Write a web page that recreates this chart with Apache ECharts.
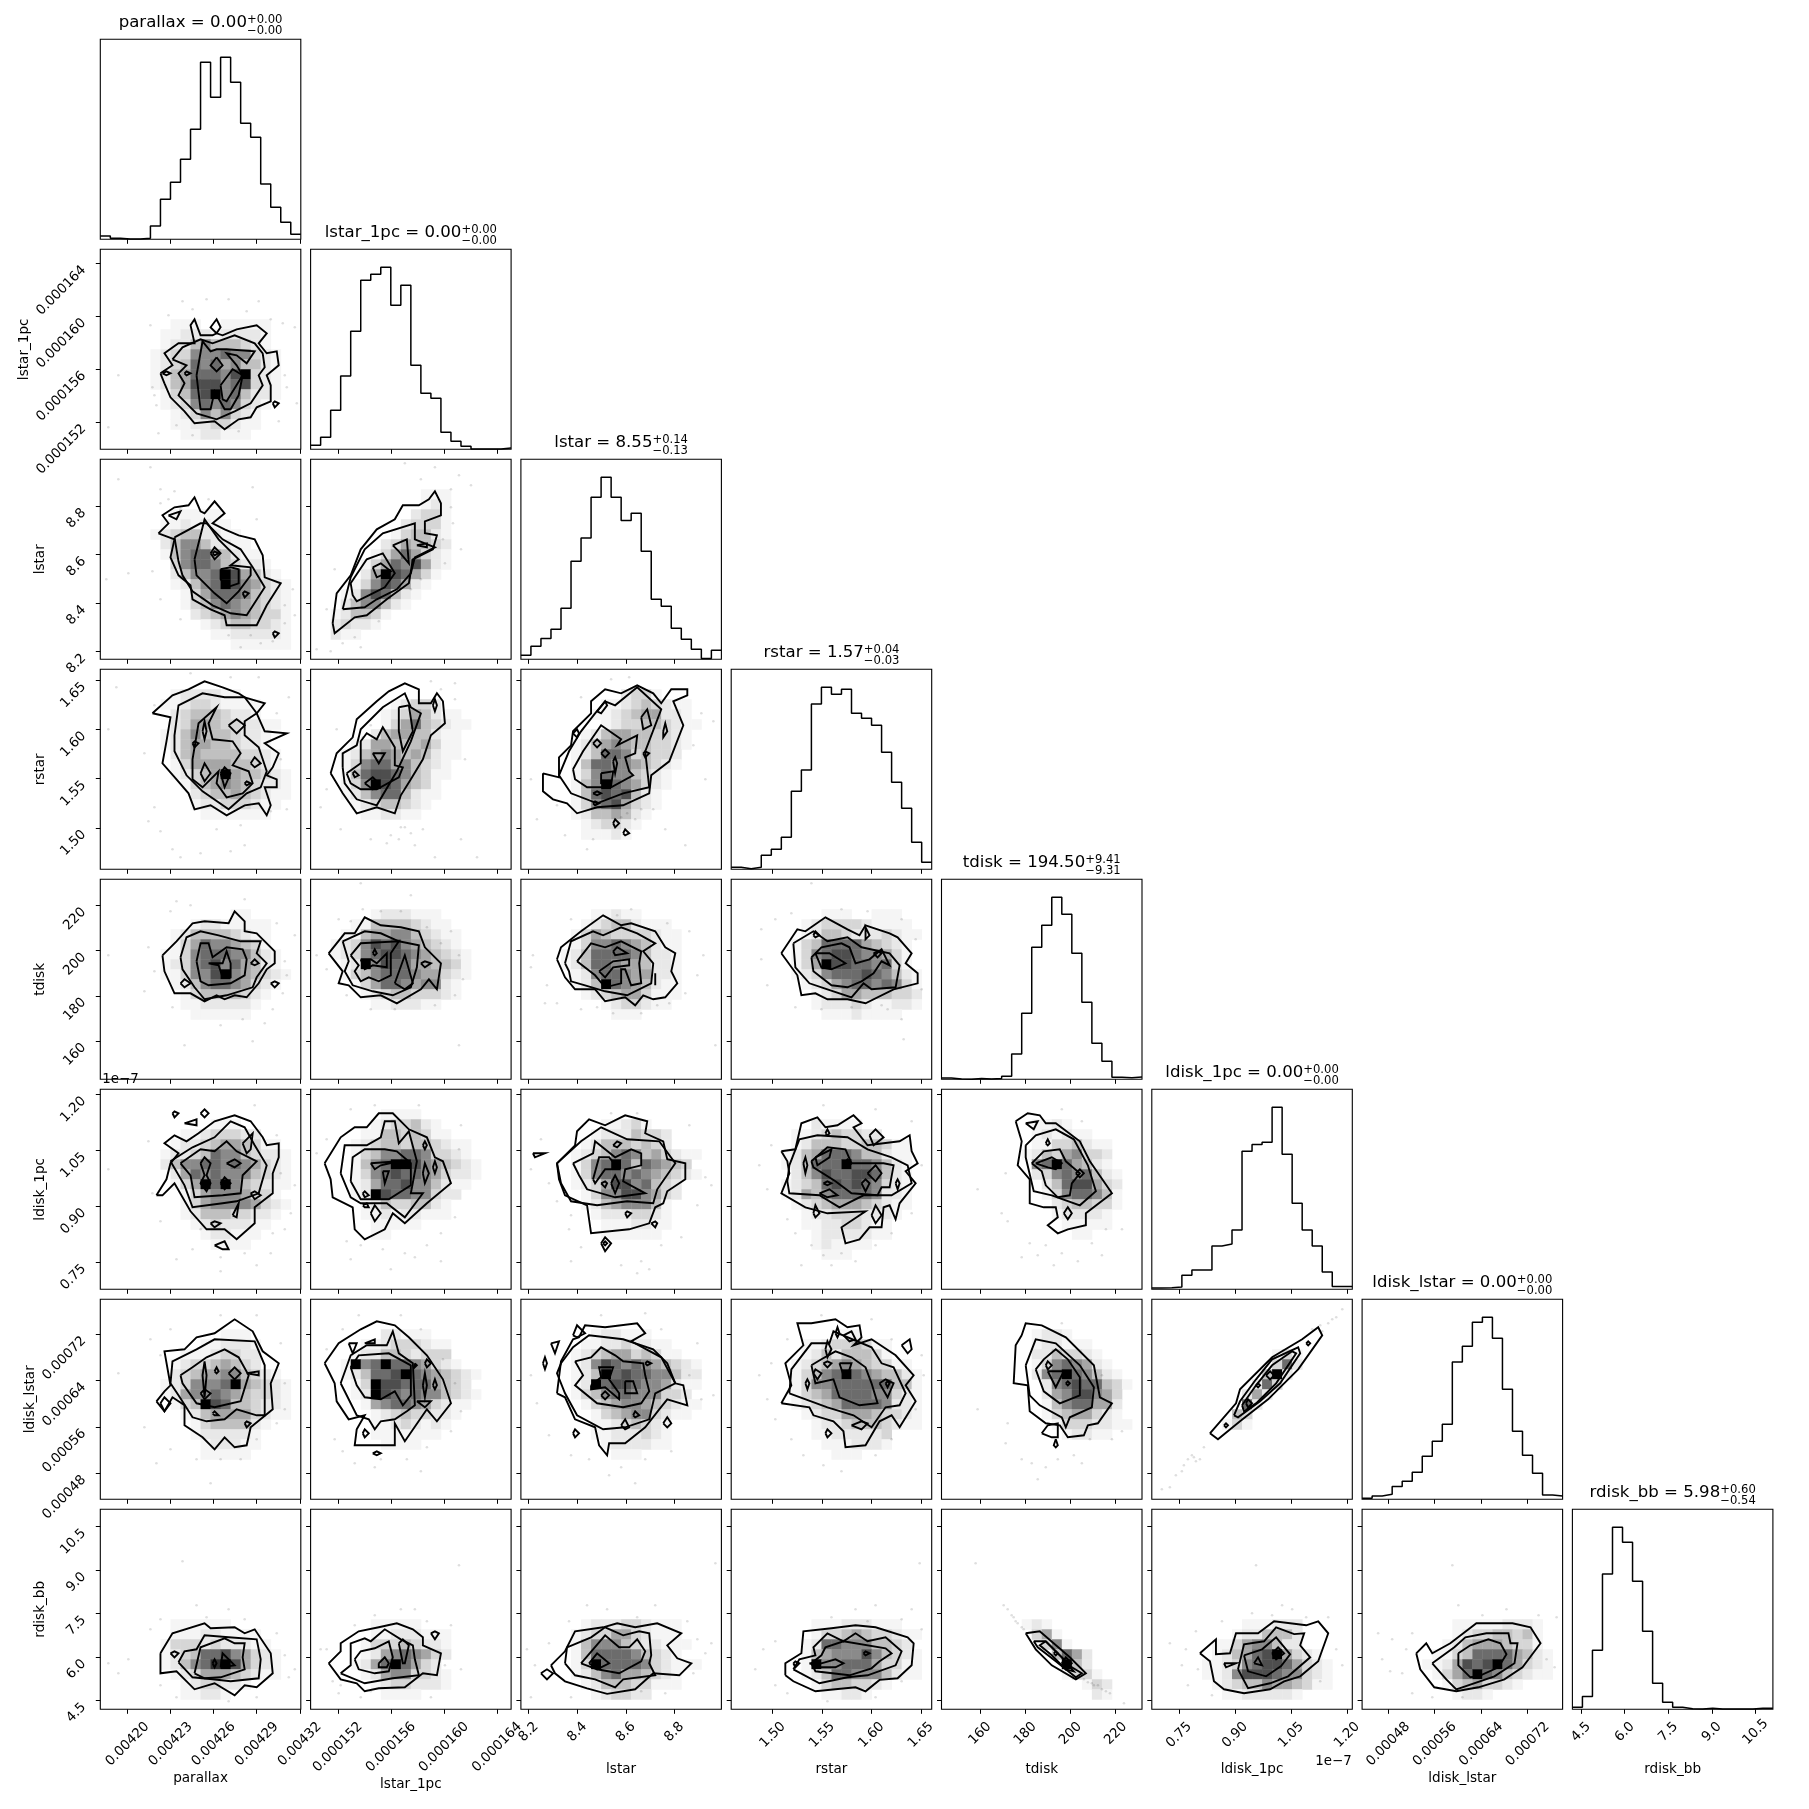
<!DOCTYPE html>
<html><head><meta charset="utf-8">
<script src="https://cdn.jsdelivr.net/npm/echarts@6/dist/echarts.min.js"></script>
<style>html,body{margin:0;padding:0;background:#fff}#c{width:1809px;height:1809px}</style></head>
<body><div id="c"></div>
<script>
const names=["parallax","lstar_1pc","lstar","rstar","tdisk","ldisk_1pc","ldisk_lstar","rdisk_bb"];
const mins=[0.004181,0.00014995,8.168,1.458,143,0.677e-7,0.000435,4.2];
const maxs=[0.0043207,0.00016506,8.994,1.661,231.6,1.214e-7,0.00078,11.1];
const ticks=[[0.0042,0.00423,0.00426,0.00429,0.00432],[0.000152,0.000156,0.00016,0.000164],[8.2,8.4,8.6,8.8],[1.5,1.55,1.6,1.65],[160,180,200,220],[0.75e-7,0.9e-7,1.05e-7,1.2e-7],[0.00048,0.00056,0.00064,0.00072],[4.5,6,7.5,9,10.5]];
const tickLabels=[["0.00420","0.00423","0.00426","0.00429","0.00432"],["0.000152","0.000156","0.000160","0.000164"],["8.2","8.4","8.6","8.8"],["1.50","1.55","1.60","1.65"],["160","180","200","220"],["0.75","0.90","1.05","1.20"],["0.00048","0.00056","0.00064","0.00072"],["4.5","6.0","7.5","9.0","10.5"]];
const titleMain=["parallax = 0.00","lstar_1pc = 0.00","lstar = 8.55","rstar = 1.57","tdisk = 194.50","ldisk_1pc = 0.00","ldisk_lstar = 0.00","rdisk_bb = 5.98"];
const titleUp=["+0.00","+0.00","+0.14","+0.04","+9.41","+0.00","+0.00","+0.60"];
const titleDown=["−0.00","−0.00","−0.13","−0.03","−9.31","−0.00","−0.00","−0.54"];

// histogram heights, 20 bins, percent of panel height
const hist0=[1.7,.5,.1,.1,.5,6.7,20,28.5,40,55,88.5,71,91,78.5,58,51,27.7,16,8.5,2.5];
const hist1=[2,6,19.5,36.7,59,84.5,87.5,91,72,82,42,28,25.5,8.5,4,1.5,.2,.1,.1,.6];
const hist2=[2,6.5,10.4,15,25.5,49,60.6,81,91,81,69.4,73,54,30,26.5,15.5,10,5,.4,4.5];
const hist3=[1,.3,1,7,10,16,39,49.7,82.7,91,87.5,90,78,75.5,72,58.5,43.5,30.5,13.5,3.5];
const hist4=[.6,.2,0,.4,.1,.4,1.5,12.6,33,66,77,91,82.5,63,38.5,18,9,1,.8,1.2];
const hist5=[.6,.8,1.2,7,9.6,9.6,21.6,22.6,29.6,69,72.4,73.5,91,67.5,43,29.6,21.6,8.6,1.4,1.4];
const hist6=[.5,1.7,2.5,6.4,9,13.5,21.5,29,37.5,68.7,76.5,88.5,91,80.5,55,34,22,13,2.2,1.7];
const hist7=[1,6.4,29.5,67.6,91,83.5,64,39,13,3.5,1,.3,.1,.5,.1,.1,.1,.1,.5,.5];

// 2D panels: cNM contour loops, hNM density rows, sNM faint samples; N row, M column; percent of axis range
const c10=[[30,38,36,42,32,48,39,53,47,53,45,62,47,65,50,57,56,57,58,58,55,61,58,65,60,61,58,58,61,57,68,60,78,62,83,58,79,53,83,48,88,49,89,42,83,37,85,32,85,24,78,21,75,16,69,15,62,10,57,14,47,13,42,19,35,26,32,33],[36,45,41,51,50,55,56,53,67,57,77,53,81,48,82,41,79,37,81,32,75,23,67,19,58,15,48,18,39,27,42,33,39,38,43,42],[48,37,51,54,55,49,58,50,63,50,77,49,73,43,68,47,63,48,68,42,71,37,69,27,65,20,62,20,57,29,55,20,50,20],[60,32,66,40,71,37,63,24,61,25],[58,46,61,42,58,39,55,42],[31,38,33,39,35,38,33,37],[42,38,43,39,45,38,43,37],[86,23,87,24,89,23,87,21]];
const h10=[7,5,"0011100111110","0112221222210","0122464443210","1233666766321","1234767564421","124577768a321","1245888678321","013478a674221","0123676763210","0012364632100","0011223321100","0001122111000"];
const s10=[9,37,25,62,4,11,41,74,53,75,64,75,79,74,91,63,97,61,92,37,98,23,27,27,26,31,29,8,46,7,69,9,89,14,93,31,38,12,34,67,46,70,73,69,85,65,28,22];
const c20=[[29,63,34,68,31,72,37,76,44,77,47,81,50,74,52,73,57,79,62,73,56,68,62,65,69,62,77,60,81,52,82,41,90,38,83,27,78,17,68,17,63,17,62,22,55,25,46,30,45,37,39,42,35,51,37,60],[34,72,40,74,38,70],[37,61,50,68,53,68,61,60,70,55,76,46,82,36,73,22,65,23,56,27,46,34,41,42,39,49],[47,50,52,70,59,60,69,50,65,47,75,46,75,42,69,34,63,28,57,33,48,42],[60,45,65,46,69,45,69,38,63,36,60,40],[55,53,57,56,60,53,57,50],[56,53,57,54,59,53,57,52],[71,33,72,34,74,33,72,31],[86,13,87,14,89,13,87,11]];
const h20=[5,5,"00111110000000","01121211000000","12344221100000","02466422110000","01467754211000","00367764322100","0024667a854210","0012467a865321","00013577764321","00013467654321","00002345654331","00000123443321","00000011222221","00000000111111"];
const s20=[25,96,9,90,3,40,30,85,34,80,40,75,30,78,37,84,54,80,78,70,96,35,97,22,92,27,86,9,75,12,80,8,70,6,64,12,92,18,40,20,30,30,26,44,14,43,76,86];
const c30=[[26,78,36,87,44,90,52,94,61,91,69,88,72,86,82,83,78,78,82,69,93,68,82,63,89,58,86,51,83,47,88,45,88,41,82,41,85,32,83,27,79,33,72,32,63,27,55,32,47,30,44,38,38,45,31,53,33,64,35,76],[37,67,39,82,51,88,62,86,72,86,78,78,72,74,72,67,79,61,83,49,80,41,73,38,64,30,51,39,43,47,37,59],[46,55,49,73,58,81,54,73,56,65,66,64,70,58,66,52,74,49,76,43,71,38,63,36,58,43,59,49,51,41,46,45],[64,72,68,75,72,72,68,68],[51,69,52,74,53,69,52,65],[46,63,47,64,49,63,47,61],[75,53,77,56,80,53,77,51],[50,48,52,53,55,48,52,44],[60,48,62,51,65,48,62,41],[72,43,73,44,75,43,73,42]];
const h30=[2,5,"00122221100000","01123321111000","00234443221000","00235543322110","01246444322100","01245544322100","00245444433210","00135555443210","0012345a544321","00013456543221","00002344543211","00001223332110","00000111111100"];
const s30=[8,91,4,70,27,31,24,24,36,10,30,19,40,6,50,8,58,20,65,9,72,12,70,22,88,78,94,86,93,30,85,29,22,58,27,82,45,98,65,96,79,96,90,55];
const c21=[[11,18,13,33,20,42,25,55,33,65,42,70,46,77,54,77,59,80,62,84,65,78,65,72,57,69,57,63,63,62,61,55,51,50,49,38,38,30,28,22,22,21,12,13],[16,25,20,41,27,55,36,63,52,68,52,60,62,56,52,51,50,43,43,35,33,30,27,26],[21,32,20,38,28,50,36,53,42,43,37,36,29,32,23,29],[31,46,35,48,40,44,33,41],[41,57,48,60,49,48,44,54],[53,57,58,58,58,56]];
const h21=[3,2,"000000000111","000000000121","000000002331","000000023331","000000134421","000002354432","000013575321","000135768521","00025a875310","001368752100","012687421000","024664210000","124431000000","232210000000","211000000000"];
const s21=[47,98,62,96,74,92,80,87,70,85,55,90,66,60,71,68,75,55,67,48,50,35,55,40,20,30,12,45,8,25,3,5,10,4,16,8,25,6,22,11,34,19,70,76];
const c31=[[10,48,13,58,21,66,23,75,33,84,39,89,47,93,54,90,54,83,60,83,63,88,66,84,67,73,60,67,56,55,50,45,45,37,42,28,33,31,23,28,16,38],[16,51,16,58,23,62,25,70,36,81,47,88,50,81,55,78,50,64,43,49,33,32,23,35,17,43],[18,48,25,53,25,64,28,68,33,65,36,71,42,61,42,52,46,51,44,46,33,40,25,40,20,43],[44,81,49,82,51,69,46,59,44,69],[31,58,37,58,34,53],[27,43,31,46,34,43,31,40],[21,48,22,49,24,47,22,46],[61,82,62,85,63,82,62,79]];
const h31=[3,2,"00000012332","0000012354211","00000135743211","0000245544211","0012554445311","01245654542110","01367756432100","0147887643110","0136a87543100","0124677421100","0012344321000","0001122110000"];
const s31=[30,15,38,13,40,17,45,21,50,18,52,12,62,6,75,15,83,6,72,93,60,94,65,90,30,72,26,66,13,70,8,40,5,31,15,20,56,20,44,15,47,21,72,85,77,55];
const c32=[[11,48,19,46,19,56,25,62,26,69,35,78,35,84,42,90,50,88,58,92,66,88,70,83,75,90,83,90,83,87,76,84,81,72,74,54,65,47,64,38,51,32,38,31,28,28,23,33,16,35,11,39],[19,47,24,59,30,69,37,78,42,84,47,82,58,91,70,80,62,59,64,41,51,38,38,33,25,38],[26,50,31,59,40,72,50,65,48,62,58,67,57,58,52,56,54,49,56,47,45,41,33,41,27,45],[60,76,63,80,65,72,61,70],[71,69,72,73,73,69,71,66],[26,68,28,70,29,68,28,66],[61,58,62,59,64,58,62,56],[40,58,42,60,44,58,42,56],[36,63,38,65,40,63,38,61],[40,48,46,49,45,42,40,43],[46,54,47,56,48,53,47,48],[36,38,38,39,40,38,38,37],[36,33,37,34,39,33,37,32],[38,79,42,84,43,82,40,78],[46,23,47,25,49,23,47,21],[51,18,52,20,54,18,52,17]];
const h32=[2,3,"00000002331","000001123432110","000011234552210","000001233443211","000124554433210","00124565443321","0012477634332","0014776654321","0013676643210","00146a7653210","0014787842100","0013678532100","0012445421000","0001233210000","0001112100000"];
const s32=[18,32,5,45,8,25,22,17,33,10,36,15,50,26,53,28,57,25,60,30,82,12,72,20,86,62,90,78,96,74,30,86,45,95,54,96,92,45,66,30];
const c40=[[31,62,38,69,46,78,52,79,64,78,67,84,72,79,72,74,78,73,87,64,87,58,83,55,79,48,73,41,67,42,62,40,58,42,52,39,45,43,37,43,32,54],[40,61,43,71,50,74,59,72,70,69,80,69,78,63,83,58,78,51,76,46,63,42,52,40,47,46,41,55],[48,59,50,68,54,68,56,61,63,66,71,65,73,60,72,52,65,48,54,47,50,49],[54,58,61,58,63,64,65,58,65,51,61,51,59,57],[75,58,77,60,79,58,77,57],[40,48,42,50,45,48,42,46],[85,48,87,49,89,48,87,46]];
const h40=[3,5,"00000000110","00001221111100","00124444321100","00135766543100","01136777664210","01236786754210","0113668a654321","00124677653210","00013444432100","00011222221000","00001111110000"];
const s40=[4,62,24,66,35,84,45,87,72,90,88,78,97,72,93,52,91,43,86,35,71,30,60,27,36,36,22,44,27,54,42,17,76,19,38,89,92,59,82,28];
const c41=[[9,63,17,73,22,73,27,81,35,77,45,76,54,74,57,66,65,58,63,45,59,50,55,45,43,38,35,42,25,41,19,47,14,48,16,54],[16,69,27,74,35,73,44,69,54,67,53,56,50,46,41,42,31,44,21,47,17,54,19,59],[20,62,25,68,44,69,40,63,40,52,34,49,29,51,25,49,22,54,24,57],[42,48,47,62,51,48,47,45],[25,60,30,60,33,58,38,63,38,56,31,57,27,55],[31,63,32,65,33,63,32,62],[55,58,57,59,60,58,57,56]];
const h41=[3,2,"00001222111","001144443211","01145566432110","12368786543210","12367887654321","012a6877554431","01346777655321","00135776566210","00012344333210","00001122211000"];
const s41=[14,80,20,79,26,85,35,84,45,84,58,76,65,68,74,62,76,50,72,42,62,37,42,35,30,35,18,42,8,55,3,62,50,92,70,74,25,98,74,17];
const c42=[[18,60,20,66,30,74,41,82,50,77,55,78,67,74,72,66,77,63,75,54,78,48,72,41,66,40,61,42,57,37,52,41,42,39,37,45,27,45,22,51],[22,58,25,69,36,74,41,72,50,76,58,73,67,68,61,64,66,58,65,48,53,42,42,44,32,47,25,49,24,54],[28,59,35,68,42,66,50,69,60,64,59,58,60,48,55,47,52,55,50,55,50,48,42,46,37,52],[39,54,46,59,54,60,54,57,46,56,42,51],[46,64,48,66,53,63,47,62],[67,50,67,53,67,50,67,47]];
const h42=[3,3,"00001121100","00012344211100","00135433332110","00136676542110","01247777642210","01247765542210","00126776552210","00124a76542110","00012345531110","00000123321100","00000011100000"];
const s42=[6,62,5,56,13,47,12,38,18,38,30,35,38,36,46,33,60,33,74,38,82,43,88,52,91,62,84,74,73,78,55,85,48,82,25,80,97,17,68,37];
const c43=[[25,63,33,75,37,74,47,81,58,75,64,72,67,77,79,73,83,71,90,63,87,58,93,53,93,48,81,45,67,38,58,40,48,40,42,43,35,42,33,52],[31,68,41,74,48,69,58,71,65,66,79,63,84,57,82,46,70,45,66,48,60,41,48,45,39,48,32,56],[40,61,45,66,55,68,59,66,62,58,69,60,75,65,79,57,75,59,71,53,65,49,58,46,50,47,41,54],[42,63,49,63,57,58,50,55,45,56],[71,63,73,64,75,63,73,61],[41,72,42,74,44,72,42,71],[67,72,67,76,69,72,67,70]];
const h43=[3,5,"000011100111","00123333211110","00124432223211","01347777543210","01367887665310","0135a887767310","01236777876421","00123567767631","00012355444332","00012223211221","00001112111100"];
const s43=[15,75,22,80,30,83,40,98,15,60,18,47,32,36,45,35,60,36,75,37,85,30,95,45,92,70,85,80,68,84,55,85,86,20,78,35];
const c50=[[28,47,33,55,35,63,39,68,32,73,37,77,43,74,49,78,57,84,67,87,75,84,81,76,83,72,89,73,89,66,86,58,86,48,77,41,77,33,68,25,62,30,53,30,45,39,37,53,31,47],[35,64,46,71,57,76,65,84,72,81,77,72,83,62,79,48,68,44,61,43,46,41,42,52],[40,63,50,70,57,69,63,74,68,69,78,64,71,57,70,48,61,47,47,46,45,57],[71,73,76,78,75,70,73,68],[50,63,52,66,55,63,53,57,55,53,53,49,50,53,52,57],[60,53,62,56,65,53,62,50],[63,63,67,65,70,63,67,61],[75,48,77,49,80,47,77,45],[36,88,37,89,39,88,37,86],[42,83,48,85,48,82],[50,88,52,90,54,88,52,86],[66,37,69,43,68,36],[55,33,57,34,60,33,57,31],[57,22,62,24,64,20,61,20]];
const h50=[3,5,"000000111","00011233322","00122345543110","01223476643221","02466776765321","00257676664321","00135a7a643211","0001356665331","00013566665321","00012444332210","00001232221100","00000122111000","00000011110000"];
const s50=[4,60,26,48,24,74,36,76,77,92,88,77,90,58,95,38,86,28,72,18,60,16,46,20,30,34,38,15,60,9,78,12,92,30,97,52,85,18,50,30];
const c51=[[7,63,15,76,22,81,28,81,34,88,41,88,49,80,58,76,62,66,66,64,70,53,58,43,47,33,41,38,37,30,27,25,22,30,21,41,11,46,10,55],[15,58,17,72,28,72,35,76,37,84,42,84,44,73,49,79,53,64,50,48,56,48,47,36,38,43,25,43,20,46],[20,54,21,66,27,70,37,70,43,69,50,63,50,52,39,45,25,45],[30,63,44,64,35,62,32,60],[36,59,39,59,37,53],[26,48,27,49,29,47,27,46],[26,42,28,43,29,41,27,41],[30,38,32,42,35,38,32,34],[56,72,57,74,58,72,57,70],[56,58,57,63,59,58,57,53],[61,61,62,64,63,61,62,58]];
const h51=[2,3,"0000111100","00012334210","00114434311","01234434432110","0134667763321","01467aa8654321","01367877653221","01257786642110","012a87766322","00124334421","00112122111","00011111000","00011000"];
const s51=[20,90,8,75,3,68,18,24,25,22,36,20,47,18,58,22,65,28,72,36,52,16,40,10,65,14,74,70,75,82,54,92,32,92,20,15];
const c52=[[18,63,27,72,28,79,34,85,42,82,52,87,63,84,62,78,71,74,73,65,82,63,82,55,73,49,71,43,67,41,64,33,54,30,35,28,33,42,22,47,19,55],[20,53,18,63,30,74,40,81,53,75,69,74,77,63,68,50,66,43,53,44,38,42,25,44],[26,63,36,68,37,74,42,70,47,66,55,70,60,68,60,62,52,60,51,54,62,48,47,46,33,50,29,57],[36,55,39,66,44,66,49,60,42,60,37,53],[45,53,47,57,49,53,47,48],[40,53,42,54,43,53,42,51],[46,72,48,74,50,73,48,71],[52,38,53,39,55,38,53,36],[65,33,67,34,68,33,67,31],[6,68,12,68,7,66],[40,23,42,26,45,23,42,19],[41,23,42,24,43,23,42,22]];
const h52=[3,4,"00001123100","00012224332","00124443432","01234676453211","01367a7476543","01367767654321","012358867432","001366886532","00124566641","00012223321","00001112211","0000111111"];
const s52=[5,60,10,75,14,53,18,44,25,37,24,30,30,21,50,12,60,14,70,22,80,26,88,42,92,56,95,52,84,82,58,88,45,88,64,10,25,14,58,8];
const c53=[[25,69,32,70,35,83,43,86,47,81,53,82,61,87,65,83,61,81,68,72,84,74,89,77,90,69,93,63,87,59,92,53,84,43,82,35,79,42,76,41,75,31,69,31,64,25,57,23,55,31,67,39,48,38,37,41,25,48,29,58,28,64],[29,62,34,75,43,77,58,76,68,70,80,66,88,62,90,53,80,47,66,47,54,41,44,47,29,48,28,54],[40,64,48,71,57,70,60,63,76,63,81,62,79,51,75,51,73,47,60,48,52,54,41,61],[42,66,50,70,49,66,43,62],[56,63,58,65,60,63,58,61],[68,58,72,62,75,58,72,54],[65,53,67,55,69,53,67,49],[46,53,48,54,50,53,48,52],[44,48,49,50,53,47,48,46],[36,63,37,66,38,62,37,58],[47,78,48,80,49,78,48,77],[69,77,72,80,76,76,71,72],[41,38,42,42,44,38,42,36],[70,37,72,42,75,37,72,33],[82,53,83,55,84,53,83,50]];
const h53=[3,4,"00002111100","00112343322","00124443344311","01245777644211","0124777a776421","00246877887421","01234787876321","01254677776221","00123455543211","00012233322210","00011223321100","000012222211","00001211110","00000111"];
const s53=[14,62,20,72,18,50,28,35,32,28,40,22,46,17,55,18,62,14,72,22,80,28,90,38,95,62,90,84,72,90,46,92,35,12,50,12];
const c54=[[37,84,43,88,49,87,52,83,57,83,69,74,74,64,85,48,72,38,72,32,63,30,58,28,53,32,58,36,57,41,51,41,44,43,44,55,38,62,40,74],[42,72,47,77,57,80,66,75,73,62,77,49,69,42,55,47,46,49,42,66],[45,63,51,69,59,70,62,64,69,58,65,53,64,47,58,46,52,52,50,59],[47,63,55,66,60,63,57,60,53,61],[67,58,69,60,71,58,69,56],[52,73,53,75,54,73,53,72],[42,83,48,84,46,80],[61,38,63,41,65,38,63,35]];
const h54=[3,7,"00112100","001212110","0011334211","0124356332","0067a75421","00236767421","00024788532","00013677641","00002344331","00001222210","00000111110","00000011"];
const s54=[18,50,32,58,30,38,33,34,44,23,48,17,52,22,40,16,60,18,68,14,75,23,82,30,90,30,80,17,70,84,60,90,56,12];
const c60=[[28,49,32,54,35,57,32,74,42,75,48,81,57,83,67,90,76,84,81,74,89,68,85,58,86,45,75,36,73,27,67,26,62,31,57,25,51,31,42,37,42,47,36,51,32,44],[35,58,36,69,48,75,57,80,77,79,82,67,82,42,78,42,68,45,62,40,53,39,46,41,39,52],[40,62,46,66,53,71,62,75,69,71,74,62,70,49,57,46,48,48,41,58],[52,69,53,62,52,51,51,62],[57,64,58,66,59,64,58,63],[64,63,67,66,70,63,67,60],[50,53,52,55,55,53,52,50],[73,63,79,64,79,62],[72,38,73,39,75,38,73,36],[30,48,32,51,35,48,32,44],[56,43,57,44,59,42,57,42]];
const h60=[3,5,"0000000111","00000112221","00011123322","00123345432","00234556643210","01236667a54321","01256676543321","00134a87443221","00012455553211","00001344442100","00001222221","00000122211","00000111110"];
const s60=[9,63,30,72,25,80,35,85,60,92,78,92,90,78,92,45,88,38,78,30,70,20,60,20,48,20,35,25,28,18,55,8,92,58,22,36];
const c61=[[7,68,14,78,25,85,33,89,42,87,49,81,58,72,66,60,70,48,63,39,58,45,47,29,42,38,42,27,27,27,22,27,23,35,27,42,19,40,13,49,12,58],[15,58,20,72,28,77,38,77,41,84,44,73,51,68,52,47,48,44,42,40,35,39,32,35,29,40,23,42],[20,66,24,72,39,73,50,67,50,52,46,47,42,54,35,50,27,51,23,57],[27,78,32,80,32,78],[19,78,23,78,21,73],[57,68,58,70,60,68,58,66],[52,68,52,69,53,67,52,66],[56,57,57,63,58,57,57,51],[61,57,62,60,63,57,62,55],[53,49,60,49,57,46],[26,33,27,35,29,33,27,31],[31,23,33,24,35,23,33,22]];
const h61=[3,3,"000022111","00112333211","01224432333","1a67a776532100","124778a7654321","013a887775432","012a8767664321","00156776532110","00012343322100","00011232121000","00011111110","00001111"];
const s61=[8,75,16,85,24,92,45,92,55,85,66,70,72,58,75,44,70,34,58,26,48,20,35,20,16,24,32,16,55,14,12,30,22,18];
const c62=[[18,53,20,69,26,80,29,81,32,87,42,86,58,88,62,83,55,79,70,71,77,58,81,57,83,47,73,50,69,45,62,36,52,28,44,28,43,22,39,27,37,36,27,40,22,51],[20,68,26,76,34,82,51,80,66,75,73,68,77,58,67,53,64,40,52,36,41,35,28,42,22,53,18,63],[27,69,35,71,40,76,47,72,51,69,61,68,62,62,64,54,60,48,51,46,38,48,27,57,31,62],[35,57,40,61,39,66,46,66,44,60,49,53,49,50,42,56,35,55],[52,59,56,59,58,53,52,53],[40,52,42,54,44,52,42,50],[62,68,63,69,65,68,63,67],[11,68,12,71,13,68,12,65],[15,78,19,79,17,73],[26,82,28,87,32,83,28,81],[50,37,52,40,54,36,52,35],[56,42,57,44,59,42,57,41],[71,38,73,41,75,38,73,36],[26,33,27,35,29,33,27,31]];
const h62=[3,4,"00012211100","00112232211","01234553431100","01268767654321","0124a787766422","012a7887665211","0134677666332","00134566543211","00013456632110","00011234321","00011222321","00001222211","00000111"];
const s62=[5,62,8,48,14,32,25,22,34,20,50,16,62,20,75,24,90,50,96,52,84,62,88,78,70,85,62,93,40,92,57,8,44,12];
const c63=[[25,48,30,57,27,68,36,77,33,88,40,88,52,90,58,86,64,87,65,81,61,77,70,80,82,72,91,62,87,57,92,49,84,36,80,42,74,39,67,27,57,26,56,34,51,39,41,42,39,46],[29,53,30,65,40,78,49,78,51,84,70,76,75,68,81,66,87,53,84,47,77,46,70,36,61,42,48,46],[40,67,45,70,52,74,60,71,67,66,70,58,73,48,64,47,54,51,51,60,42,58],[47,75,48,79,50,75,48,71],[52,83,53,86,54,83,53,81],[56,82,60,84,62,80,59,79],[85,77,89,80,90,75,88,73],[37,58,38,60,39,58,38,55],[46,68,48,69,50,68,48,66],[41,63,42,65,45,63,43,60],[54,68,60,68,58,62,56,62],[74,58,77,60,81,58,78,51],[77,58,78,59,79,58,78,56],[60,37,65,39,68,38,65,35],[47,33,48,35,50,33,48,31]];
const h63=[3,5,"0000011100","00112334311","00124244431","01234565433110","013467a7654421","01366777777441","01345777766321","01234577776221","00123355543321","00012234443211","00011222223","00001112221","00000111"];
const s63=[14,62,18,50,22,40,30,30,36,22,46,17,55,14,72,22,80,30,92,45,96,62,95,72,80,80,70,90,45,92,28,80,20,68];
const c64=[[40,82,42,88,50,87,62,81,76,67,79,51,85,48,78,38,73,37,71,32,63,31,59,37,52,38,44,44,43,57,36,58,37,77],[42,67,47,80,57,78,69,67,76,56,75,46,64,41,62,36,60,41,49,47,44,52],[47,65,51,70,57,75,63,70,69,61,69,52,59,48,51,54],[53,64,61,64,57,56,55,60],[52,67,53,69,55,67,53,65],[62,58,63,59,64,58,63,57],[50,33,53,37,58,38,58,31,55,31],[57,30,58,27,57,26,56,27]];
const h64=[3,8,"0122100","01221110","022433210","0136765210","0267a76421","00267877431","0025688653","0014677552","0013455321","00013332211","000012211"];
const s64=[18,45,33,38,32,28,40,20,45,18,52,16,58,20,66,22,74,30,85,30,90,34,70,18,48,10,60,88,80,62];
const c65=[[29,33,42,48,44,55,60,71,75,80,83,86,85,82,73,65,58,50,44,39,33,30],[41,42,44,49,52,60,60,70,73,76,74,73,64,58,54,49,43,41],[45,47,52,57,60,67,70,74,72,73,62,58,52,48,46,44],[36,37,37,38,38,37,37,36],[77,78,78,79,79,78,78,77],[52,57,53,58,54,57,53,56],[47,48,48,50,50,48,48,46],[57,62,59,64,61,62,59,60]];
const h65=[5,7,"00000131","00000372","00004a20","00027300","00252000","00720000","04300000","13100000"];
const s65=[20,22,22,19,24,20,12,12,15,14,16,17,18,20,21,21,9,6,26,26,85,84,88,88,90,90,92,91,95,95,84,87,80,85,5,5];
const c70=[[30,28,36,38,52,43,55,40.5,67,41,72,38,77,40,85,28,86,18,78,11,72,12,67,7,57,13,47,10,38,19,30,18],[39,23.5,42,29,48,30,52,37,64,36,78,35,80,25,79,15.5,65,14,56,15,46,16],[47,18,50,31,62,35.5,67,33,72,33,71,26,72,20,60,16,52,15.5],[60,21,61,28,67,22],[56,23,57,25,58,23,57,21],[35,28,37,29,39,28,37,26]];
const h70=[11,5,"0011111100","0011122111100","0133323222110","0123477865321","0124679a85321","0012355543211","0001233221","00011221"];
const s70=[4,23,9,18,14,25,25,40,30,45,48,52,53,46,64,50,72,45,88,38,92,27,94,16,97,20,78,6,64,4,38,6,30,12,41,74];
const c71=[[9,23,15,29,15,33,24,39,34,41,43,43,51,40,56,36,56,32,65,28,63,17,56,18,47,11,34,10.5,27,9,23,13,15,15],[15,18,20,22,20,33,27,35.5,30,34,37,40,45,35,51,32,52,25,54,17,41,15.5,27,13],[22,25,25,29,32,30.5,39,34,41,26,39,19,32,18,24,20],[34,23,37,26,39,23,38,21,34,21],[44,33,46,35,49,32,47,23,46,23],[60,38,62,39,64,38,62,35]];
const h71=[11,3,"00011111","00011222111","00133343221","00125676532","01257a7532","00125663321","00012332221","00001111"];
const s71=[8,30,11,14,5,30,14,8,30,9,22,42,32,47,45,50,52,50,58,44,67,22,70,42,74,72,75,20,60,6,25,6,15,12];
const c72=[[15,22,22,29,27,39,41,41,48,43,57,41,68,43,80,38,73,32,78,25.5,85,23,79,17,66,18,57,10,43,7.7,33,10.5,22,14,17,18],[22,23,23,31,35,36,42,41,51,37,59,39,64,38,65,27,64,23,67,17,51,15,47,11,37,15,27,17],[30,23,36,30,42,37,49,31,54,31,58,35,62,29,60,24,49,18,38,20],[34,23,38,28,44,23,38,20],[10,18,13,20,16,18,13,15]];
const h72=[11,3,"0001222332111","00123355321110","00146664322111","0014777764321","0013a7777632111","0012467554321","0001244433111","0000123322"];
const s72=[3,30,7,22,14,33,24,44,33,52,43,50,58,46,67,52,83,44,88,35,92,28,95,33,86,18,72,8,60,9,25,6,5,6,97,73];
const c73=[[27,17,27,23,35,28,36,39,50,40.5,62,42,72,41,88,36,91,33,90,22,83,15.5,74,14.7,67,9,62,11,42,9,31,14],[31,20,34,25,42,27,41,31,48,38,56,34,62,38,68,34,77,36,85,29,82,22,68,17,58,16,44,13],[40,23,45,27,47,31,56,34,77,30.5,80,28,74,24,70,20.5,59,17,42,19],[39,23,45,23,52,25,56,23,52,21,45,21],[66,28,67,29,69,28,67,27],[31,23,32,24,34,23,32,21]];
const h73=[11,5,"000111222111","00013345433211","0012776664432","00145666864321","001a6677753311","00124776664211","00013443321","000011221"];
const s73=[12,20,16,30,22,34,22,12,28,8,50,46,62,50,72,52,85,45,90,50,95,40,85,14,48,4,72,6,94,73,68,44];
const c74=[[42,38,49,39,64,26,72,18,67,15,55,22,47,30],[46,34,52,34,65,21,70,18,67,16,57,24,48,31],[52,34,60,26,66,19,62,20,55,27,49,32],[60,23,62,26,65,23,62,20],[56,28,57,29,58,28,57,27]];
const h74=[11,8,"1210000000","0351000000","0036100000","0004752000","0000a42000","0000133100","0000001320","0000000210"];
const s74=[17,73,31,52,33,50,35,47,36,46,37,44,38,43,40,41,41,40,71,15,73,13.5,75,13,76,12,78,12,80,10,82,9,84,8,91,3];
const c75=[[24,28,32,35,32,27.5,39,28,42,38,53,38,61,44,77,42,83,44,88,38,83,24,74,16.5,66,14,59,10,46,8,36,10,31,14,29,24],[43,20,46,32.5,56,34,62,41,71,37.6,76,38,74,32,79,26,68,16.5,59,13,48,10.6],[46,27,55,30,62,36,69,27.5,64.5,21.6,57,16.5,48,19],[51,23,53,26,55,22],[60,28,63,31,66,28,62,25],[36,23,42,23,37,21]];
const h75=[11,4,"00000111222","00001224442","00113566422","00124578a5321","01123678875321","01126888766321","00123446554311","00011222221"];
const s75=[52,72,9,33,17,30,23,20,15,22,22,39,35,44,50,48,65,52,77,46,88,46,92,30,95,22,84,14,30,7,18,12,70,50,60,47];
const c76=[[27,28,32,33,35,28,44,33,57,43,75,43,84,41,89,33,80,21,71,15,58,11,47,9,36,11,29,20],[35,23,46,31,51.5,36,62,38,73,38,74,33,77.5,33,76,23,66,16.5,47,10,42,15],[48,28,54,32,63,35,69,33,72,27.5,68,21,58,16.5,54,16,48,22]];
const h76=[11,5,"0000111112221","0000123344341","0001245554331","00113477775421","01125878a75321","001357a7643211","00013453321","00001221"];
const s76=[45,72,15,35,10,25,14,19,20,18,22,30,25,38,8,38,48,52,60,47,72,50,88,47,97,46,92,25,96,21,25,8,35,6,50,6];

const panelX=i=>100.3+i*210.3, panelY=i=>39.3+i*210, W=200.5, H=200;
const FONT='"DejaVu Sans"';
const shades=['#ffffff','#f5f5f5','#e8e8e8','#d6d6d6','#c0c0c0','#a6a6a6','#8a8a8a','#6c6c6c','#4e4e4e','#2e2e2e','#000000'];
const cvs=document.createElement('canvas').getContext('2d');
const measure=(t,s)=>{cvs.font=s+'px '+FONT;return cvs.measureText(t).width;};
const toX=(v,p)=>mins[v]+(maxs[v]-mins[v])*p/100;

const grids=[],xAxes=[],yAxes=[],series=[],graphics=[];
const tickFmt=v=>val=>{let b=0,d=1e99;ticks[v].forEach((t,i)=>{const e=Math.abs(t-val);if(e<d){d=e;b=i}});return tickLabels[v][b];};
function addPanel(r,c){
  const idx=grids.length;
  grids.push({left:panelX(c),top:panelY(r),width:W,height:H,show:true,borderColor:'#000',borderWidth:1.1,backgroundColor:'#fff',containLabel:false});
  const bottom=r===7,left=c===0&&r>0;
  const xw=bottom?measure(tickLabels[c][0],13.4):0;
  xAxes.push({type:'value',gridIndex:idx,min:mins[c],max:maxs[c],scale:true,splitLine:{show:false},axisLine:{show:false},
    axisTick:{show:true,length:4.5,customValues:ticks[c],lineStyle:{color:'#000',width:1}},
    axisLabel:{show:bottom,customValues:ticks[c],rotate:45,align:'center',verticalAlign:'middle',hideOverlap:false,showMinLabel:true,showMaxLabel:true,
      margin:11+(xw+12)*.707/2,fontFamily:FONT,fontSize:13.4,color:'#000',formatter:tickFmt(c)},
    name:bottom?names[c]:'',nameLocation:'middle',nameGap:60,nameTextStyle:{fontFamily:FONT,fontSize:13.6,color:'#000',verticalAlign:'middle'}});
  if(r===c){
    yAxes.push({type:'value',gridIndex:idx,min:0,max:100,show:false,splitLine:{show:false}});
  }else{
    yAxes.push({type:'value',gridIndex:idx,min:mins[r],max:maxs[r],scale:true,splitLine:{show:false},axisLine:{show:false},
      axisTick:{show:true,length:4.5,customValues:ticks[r],lineStyle:{color:'#000',width:1}},
      axisLabel:{show:left,customValues:ticks[r],rotate:45,align:'right',verticalAlign:'top',hideOverlap:false,showMinLabel:true,showMaxLabel:true,margin:21,fontFamily:FONT,fontSize:13.4,color:'#000',formatter:tickFmt(r)},
      name:left?names[r]:'',nameLocation:'middle',nameGap:60,nameRotate:90,nameTextStyle:{fontFamily:FONT,fontSize:13.6,color:'#000',verticalAlign:'middle'}});
  }
  return idx;
}
const histTable=[hist0,hist1,hist2,hist3,hist4,hist5,hist6,hist7];
const panelTable={c10,h10,s10,c20,h20,s20,c21,h21,s21,c30,h30,s30,c31,h31,s31,c32,h32,s32,c40,h40,s40,c41,h41,s41,c42,h42,s42,c43,h43,s43,c50,h50,s50,c51,h51,s51,c52,h52,s52,c53,h53,s53,c54,h54,s54,c60,h60,s60,c61,h61,s61,c62,h62,s62,c63,h63,s63,c64,h64,s64,c65,h65,s65,c70,h70,s70,c71,h71,s71,c72,h72,s72,c73,h73,s73,c74,h74,s74,c75,h75,s75,c76,h76,s76};

for(let r=0;r<8;r++)for(let c=0;c<=r;c++){
  const idx=addPanel(r,c);
  if(r===c){
    const d=histTable[c].map((h,i)=>[toX(c,i*5),h]);
    d.push([maxs[c],histTable[c][19]]);
    series.push({type:'line',xAxisIndex:idx,yAxisIndex:idx,data:d,step:'end',symbol:'none',lineStyle:{color:'#000',width:1.5},silent:true,animation:false,z:5});
    const cx=panelX(c)+W/2,top=panelY(c);
    const w1=measure(titleMain[c],16.6),w2=measure(titleUp[c],11.6),st=cx-(w1+w2)/2;
    graphics.push({type:'text',left:st,top:top-25,style:{text:titleMain[c],font:'16.6px '+FONT,fill:'#000'},silent:true});
    graphics.push({type:'text',left:st+w1,top:top-25,style:{text:titleUp[c],font:'11.6px '+FONT,fill:'#000'},silent:true});
    graphics.push({type:'text',left:st+w1,top:top-14.5,style:{text:titleDown[c],font:'11.6px '+FONT,fill:'#000'},silent:true});
    continue;
  }
  const key=''+r+c;
  const h=panelTable['h'+key],s=panelTable['s'+key],cs=panelTable['c'+key];
  const cells=[];
  for(let i=2;i<h.length;i++){
    const row=h[0]+i-2,str=h[i];
    for(let j=0;j<str.length;j++){
      const dv=parseInt(str[j],16);
      if(!dv)continue;
      const col=h[1]+j;
      cells.push([toX(c,col*5),toX(r,100-(row+1)*5),toX(c,(col+1)*5),toX(r,100-row*5),dv]);
    }
  }
  series.push({type:'custom',xAxisIndex:idx,yAxisIndex:idx,data:cells,encode:{x:[0,2],y:[1,3]},silent:true,animation:false,z:2,clip:true,
    renderItem:(p,api)=>{
      const a=api.coord([api.value(0),api.value(3)]),b=api.coord([api.value(2),api.value(1)]);
      return {type:'rect',shape:{x:a[0],y:a[1],width:b[0]-a[0]+.4,height:b[1]-a[1]+.4},style:{fill:shades[api.value(4)]}};
    }});
  const pts=[];
  for(let i=0;i<s.length;i+=2)pts.push([toX(c,s[i]),toX(r,s[i+1])]);
  series.push({type:'scatter',xAxisIndex:idx,yAxisIndex:idx,data:pts,symbolSize:2.6,itemStyle:{color:'rgba(0,0,0,0.16)'},silent:true,animation:false,z:3});
  cs.forEach(loop=>{
    const d=[];
    for(let i=0;i<loop.length;i+=2)d.push([toX(c,loop[i]),toX(r,loop[i+1])]);
    d.push(d[0]);
    series.push({type:'line',xAxisIndex:idx,yAxisIndex:idx,data:d,symbol:'none',lineStyle:{color:'#000',width:1.9,join:'miter'},silent:true,animation:false,z:4});
  });
}
graphics.push({type:'text',left:panelX(0)+2,top:panelY(5)-16,style:{text:'1e−7',font:'13.4px '+FONT,fill:'#000'},silent:true});
graphics.push({type:'text',left:panelX(5)+W-37,top:1755,style:{text:'1e−7',font:'13.4px '+FONT,fill:'#000'},silent:true});

const chart=echarts.init(document.getElementById('c'),null,{renderer:'canvas',width:1809,height:1809});
chart.setOption({animation:false,backgroundColor:'#fff',grid:grids,xAxis:xAxes,yAxis:yAxes,series:series,graphic:{elements:graphics},tooltip:{show:false}});
</script></body></html>
